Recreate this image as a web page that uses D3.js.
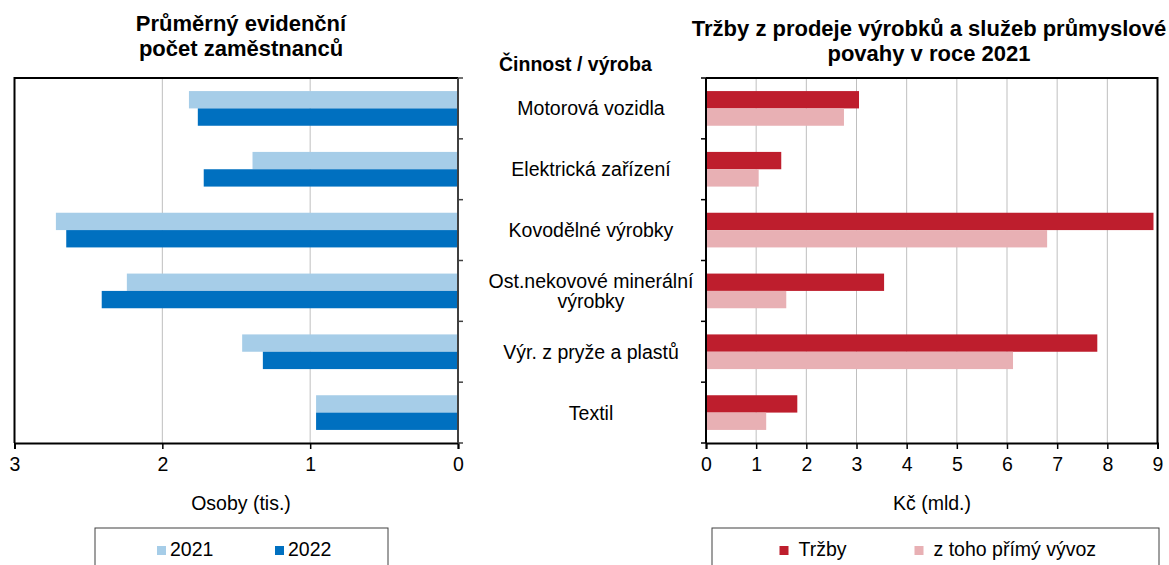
<!DOCTYPE html>
<html>
<head>
<meta charset="utf-8">
<script src="https://cdn.jsdelivr.net/npm/d3@7"></script>
<style>
  body { margin: 0; background: #fff; }
  text { font-family: "Liberation Sans", Arial, sans-serif; fill: #000; }
</style>
</head>
<body>
<script>
const W = 1169, H = 565;

// data
const categories = ["Motorová vozidla", "Elektrická zařízení", "Kovodělné výrobky",
    "Ost.nekovové minerální\nvýrobky", "Výr. z pryže a plastů", "Textil"];
const years = ["2021", "2022"];
const persons2021 = [1.82, 1.39, 2.72, 2.24, 1.46, 0.96];
const persons2022 = [1.76, 1.72, 2.65, 2.41, 1.32, 0.96];
const salesSeries = ["Tržby", "z toho přímý vývoz"];
const sales = [3.05, 1.50, 8.92, 3.55, 7.80, 1.82];
const exportsDirect = [2.75, 1.05, 6.80, 1.60, 6.12, 1.20];
const leftTicks = [3, 2, 1, 0];
const rightTicks = [0, 1, 2, 3, 4, 5, 6, 7, 8, 9];

const leftColors = ["#a6cde8", "#0070c0"];
const rightColors = ["#be1e2d", "#e8b0b4"];

const svg = d3.select("body").append("svg").attr("width", W).attr("height", H);

////  shared vertical layout  ////
const plotTop = 78, plotBottom = 443;
const y0 = d3.scaleBand().domain(categories).range([plotTop, plotBottom])
    .paddingInner(0.43).paddingOuter(0.215);
const bounds = categories.map((c, i) => plotTop + i * y0.step()).concat([plotBottom]);

////  left chart  ////
const xL = d3.scaleLinear().domain([0, 3]).range([458, 14.5]);
const yL = d3.scaleBand().domain(years).range([0, y0.bandwidth()]);

const gl = svg.append("g");
gl.selectAll("line.grid").data([1, 2]).enter().append("line")
    .attr("x1", d => xL(d)).attr("x2", d => xL(d))
    .attr("y1", plotTop).attr("y2", plotBottom)
    .attr("stroke", "#bfbfbf").attr("stroke-width", 1);

const leftRows = categories.map((c, i) => ({c, vals: [persons2021[i], persons2022[i]]}));
gl.selectAll("g.row").data(leftRows).enter().append("g")
    .attr("transform", d => `translate(0,${y0(d.c)})`)
    .selectAll("rect").data(d => d.vals.map((v, j) => ({v, k: years[j], j})))
    .enter().append("rect")
    .attr("x", d => xL(d.v)).attr("width", d => xL(0) - xL(d.v))
    .attr("y", d => yL(d.k)).attr("height", yL.bandwidth())
    .attr("fill", d => leftColors[d.j]);

// frame: top + left border
gl.append("path")
    .attr("d", `M${xL(0)},${plotTop}H${xL(3)}V${plotBottom}`)
    .attr("fill", "none").attr("stroke", "#000").attr("stroke-width", 2);
// bottom axis
gl.append("g").attr("transform", `translate(0,${plotBottom})`)
    .call(d3.axisBottom(xL).tickValues(leftTicks).tickFormat(d3.format("d")).tickSize(6).tickPadding(8))
    .call(g => g.select(".domain").attr("stroke", "#000").attr("stroke-width", 2))
    .call(g => g.selectAll(".tick line").attr("stroke", "#000").attr("stroke-width", 1.5))
    .call(g => g.selectAll(".tick text").attr("font-size", "19.5px").attr("font-family", null));
// right axis with category ticks
gl.append("line").attr("x1", xL(0)).attr("x2", xL(0)).attr("y1", plotTop).attr("y2", plotBottom)
    .attr("stroke", "#404040").attr("stroke-width", 2);
gl.selectAll("line.ctick").data(bounds).enter().append("line")
    .attr("x1", xL(0)).attr("x2", xL(0) + 5).attr("y1", d => d).attr("y2", d => d)
    .attr("stroke", "#404040").attr("stroke-width", 1.5);

gl.append("text").attr("x", 241).attr("y", 31).attr("text-anchor", "middle")
    .attr("font-size", "22px").attr("font-weight", "bold").text("Průměrný evidenční");
gl.append("text").attr("x", 241).attr("y", 56).attr("text-anchor", "middle")
    .attr("font-size", "22px").attr("font-weight", "bold").text("počet zaměstnanců");
gl.append("text").attr("x", 241).attr("y", 510).attr("text-anchor", "middle")
    .attr("font-size", "19.5px").text("Osoby (tis.)");

// left legend
gl.append("rect").attr("x", 95).attr("y", 528).attr("width", 293).attr("height", 60)
    .attr("fill", "none").attr("stroke", "#404040").attr("stroke-width", 1);
const legL = gl.selectAll("g.leg").data(years).enter().append("g")
    .attr("transform", (d, i) => `translate(${[157, 275][i]},546)`);
legL.append("rect").attr("width", 9).attr("height", 9).attr("fill", (d, i) => leftColors[i]);
legL.append("text").attr("x", 13).attr("y", 9.5).attr("font-size", "19.5px").text(d => d);

////  right chart  ////
const xR = d3.scaleLinear().domain([0, 9]).range([706, 1157.5]);
const yR = d3.scaleBand().domain(salesSeries).range([0, y0.bandwidth()]);
const gr = svg.append("g");

gr.selectAll("line.grid").data(rightTicks.slice(1, -1)).enter().append("line")
    .attr("x1", d => xR(d)).attr("x2", d => xR(d))
    .attr("y1", plotTop).attr("y2", plotBottom)
    .attr("stroke", "#bfbfbf").attr("stroke-width", 1);

const rightRows = categories.map((c, i) => ({c, vals: [sales[i], exportsDirect[i]]}));
gr.selectAll("g.row").data(rightRows).enter().append("g")
    .attr("transform", d => `translate(0,${y0(d.c)})`)
    .selectAll("rect").data(d => d.vals.map((v, j) => ({v, k: salesSeries[j], j})))
    .enter().append("rect")
    .attr("x", xR(0)).attr("width", d => xR(d.v) - xR(0))
    .attr("y", d => yR(d.k)).attr("height", yR.bandwidth())
    .attr("fill", d => rightColors[d.j]);

gr.append("path")
    .attr("d", `M${xR(0)},${plotTop}H${xR(9)}V${plotBottom}`)
    .attr("fill", "none").attr("stroke", "#000").attr("stroke-width", 2);
gr.append("g").attr("transform", `translate(0,${plotBottom})`)
    .call(d3.axisBottom(xR).tickValues(rightTicks).tickFormat(d3.format("d")).tickSize(6).tickPadding(8))
    .call(g => g.select(".domain").attr("stroke", "#000").attr("stroke-width", 2))
    .call(g => g.selectAll(".tick line").attr("stroke", "#000").attr("stroke-width", 1.5))
    .call(g => g.selectAll(".tick text").attr("font-size", "19.5px").attr("font-family", null));
gr.append("line").attr("x1", xR(0)).attr("x2", xR(0)).attr("y1", plotTop).attr("y2", plotBottom)
    .attr("stroke", "#000").attr("stroke-width", 2);
gr.selectAll("line.ctick").data(bounds).enter().append("line")
    .attr("x1", xR(0) - 5).attr("x2", xR(0)).attr("y1", d => d).attr("y2", d => d)
    .attr("stroke", "#000").attr("stroke-width", 1.5);

// category labels between the charts
const labels = svg.selectAll("text.cat").data(categories).enter().append("text")
    .attr("class", "cat").attr("text-anchor", "middle").attr("font-size", "19.5px");
labels.each(function (d) {
    const lines = d.split("\n");
    const cy = y0(d) + y0.bandwidth() / 2;
    lines.forEach((ln, i) => {
        d3.select(this).append("tspan").attr("x", 591)
            .attr("y", cy + 7 + (i - (lines.length - 1) / 2) * 20.5)
            .text(ln);
    });
});
svg.append("text").attr("x", 499).attr("y", 71).attr("font-size", "19.5px")
    .attr("font-weight", "bold").text("Činnost / výroba");

gr.append("text").attr("x", 929).attr("y", 36).attr("text-anchor", "middle")
    .attr("font-size", "22px").attr("font-weight", "bold").text("Tržby z prodeje výrobků a služeb průmyslové");
gr.append("text").attr("x", 929).attr("y", 61).attr("text-anchor", "middle")
    .attr("font-size", "22px").attr("font-weight", "bold").text("povahy v roce 2021");
gr.append("text").attr("x", 932).attr("y", 510).attr("text-anchor", "middle")
    .attr("font-size", "19.5px").text("Kč (mld.)");

// right legend
gr.append("rect").attr("x", 712).attr("y", 528).attr("width", 447).attr("height", 60)
    .attr("fill", "none").attr("stroke", "#404040").attr("stroke-width", 1);
const legR = gr.selectAll("g.leg").data(salesSeries).enter().append("g")
    .attr("transform", (d, i) => `translate(${[779.5, 914.5][i]},546)`);
legR.append("rect").attr("width", 9).attr("height", 9).attr("fill", (d, i) => rightColors[i]);
legR.append("text").attr("x", 19).attr("y", 9.5).attr("font-size", "19.5px").text(d => d);
</script>
</body>
</html>
